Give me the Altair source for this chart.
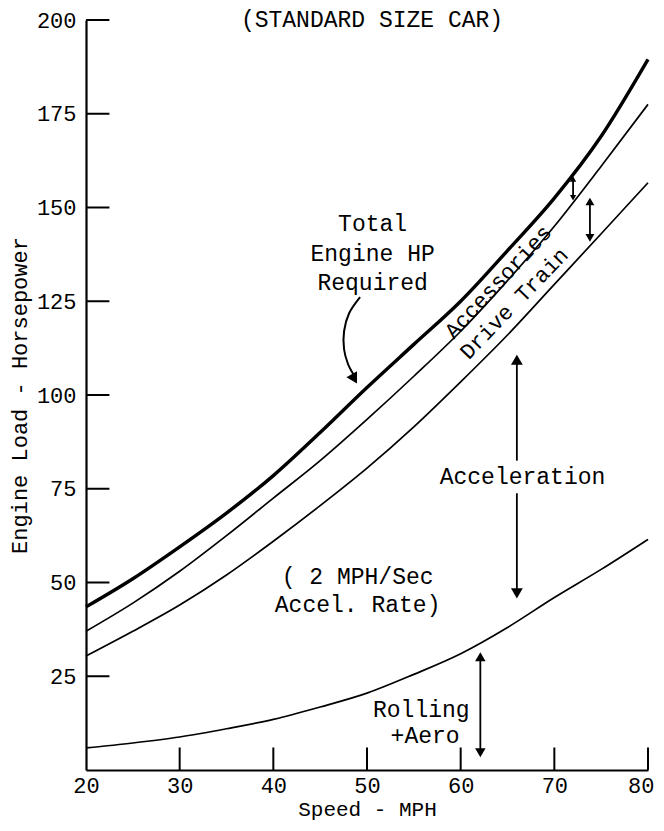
import altair as alt
import pandas as pd

# ---- data ----
speed = [20, 25, 30, 35, 40, 45, 50, 55, 60, 65, 70, 75, 80]
total_hp = [43.5, 51, 59.5, 68.5, 78.5, 90, 102, 113.5, 125, 138.5, 152.5, 169, 189.5]
accessories_hp = [37, 44.5, 53, 62.5, 72.5, 82.5, 93.5, 105, 117, 130.5, 145, 161, 177.5]
drive_hp = [30.4, 37, 44, 52, 61, 70.5, 80.5, 91.5, 103.5, 116, 129.5, 143, 156.6]
rolling_hp = [5.9, 7.2, 8.8, 11, 13.5, 16.8, 20.5, 25.5, 31, 38, 46, 53.5, 61.5]

x_ticks = [20, 30, 40, 50, 60, 70, 80]
y_ticks = [25, 50, 75, 100, 125, 150, 175, 200]

# vertical double arrows (speed, from hp, to hp)
shaft_speed = [72, 73.8, 66, 66, 62.1]
shaft_from = [152.4, 141.7, 82.5, 47.1, 4.6]
shaft_to = [157.8, 151.8, 109.4, 73.8, 30.2]

# arrow heads
head_speed = [72, 72, 73.8, 73.8, 66, 66, 62.1, 62.1]
head_hp = [157.6, 152.6, 151.6, 141.9, 109.4, 47.1, 30.2, 4.6]
head_shape = ["triangle-up", "triangle-down"] * 4
head_size = [40, 40, 80, 80, 140, 140, 110, 110]

# curved arrow pointing at the total curve
curve_speed = [49.26, 48.09, 47.55, 47.55, 47.98, 48.6]
curve_hp = [126.1, 121.8, 117.0, 112.2, 108.2, 105.3]
curve_head = (48.65, 104.3)

# annotation texts
ann_text = ["Total", "Engine HP", "Required", "Acceleration",
            "( 2 MPH/Sec", "Accel. Rate)", "Rolling", "+Aero"]
ann_speed = [50.6, 50.6, 50.6, 66.6, 49.0, 49.0, 55.8, 56.2]
ann_hp = [145.5, 137.5, 129.8, 78.2, 51.6, 44.1, 16.0, 9.0]

rot_text = ["Accessories", "Drive Train"]
rot_speed = [64.0, 65.7]
rot_hp = [130.2, 124.4]
rot_angle = [313, 314]

FONT = "Liberation Mono"

# ---- tables ----
curves = pd.DataFrame({
    "speed": speed * 3,
    "hp": accessories_hp + drive_hp + rolling_hp,
    "series": ["Accessories"] * len(speed) + ["Drive Train"] * len(speed) + ["Rolling"] * len(speed),
})
total_df = pd.DataFrame({"speed": speed, "hp": total_hp})
xt_df = pd.DataFrame({"speed": x_ticks[1:], "hp": 0, "hp2": 6.0})
yt_df = pd.DataFrame({"speed": 20, "speed2": 22.5, "hp": y_ticks})
shaft_df = pd.DataFrame({"speed": shaft_speed, "hp": shaft_from, "hp2": shaft_to})
head_df = pd.DataFrame({"speed": head_speed, "hp": head_hp, "shape": head_shape, "size": head_size})
curve_df = pd.DataFrame({"speed": curve_speed, "hp": curve_hp, "i": list(range(len(curve_speed)))})
chead_df = pd.DataFrame({"speed": [curve_head[0]], "hp": [curve_head[1]]})
ann_df = pd.DataFrame({"speed": ann_speed, "hp": ann_hp, "text": ann_text})
rot_df = pd.DataFrame({"speed": rot_speed, "hp": rot_hp, "text": rot_text, "angle": rot_angle})

is80 = "datum.value == 80"
X = alt.X(
    "speed:Q",
    scale=alt.Scale(domain=[20, 80], nice=False, zero=False),
    axis=alt.Axis(
        values=x_ticks, ticks=False, tickSize=0, grid=False,
        domainColor="black", domainWidth=2.2,
        labelFont=FONT, labelFontSize=22, labelColor="black", labelPadding=5,
        labelAlign={"condition": {"test": is80, "value": "right"}, "value": "center"},
        labelOffset={"condition": {"test": is80, "value": 6}, "value": 0},
        title="Speed - MPH", titleFont=FONT, titleFontSize=21, titleFontWeight="normal",
        titleColor="black", titleX=281, titleY=39, titleBaseline="middle", titleAlign="center",
    ),
)
Y = alt.Y(
    "hp:Q",
    scale=alt.Scale(domain=[0, 200], nice=False, zero=True),
    axis=alt.Axis(
        values=y_ticks, ticks=False, tickSize=0, grid=False,
        domainColor="black", domainWidth=2.2,
        labelFont=FONT, labelFontSize=22, labelColor="black", labelPadding=10,
        title="Engine Load - Horsepower", titleFont=FONT, titleFontSize=22,
        titleFontWeight="normal", titleColor="black", titleAngle=270,
        titleX=-67, titleY=375, titleBaseline="middle", titleAlign="center",
    ),
)

thin = alt.Chart(curves).mark_line(color="black", strokeWidth=1.7, interpolate="monotone").encode(
    x=X, y=Y, detail="series:N")
thick = alt.Chart(total_df).mark_line(color="black", strokeWidth=3.4, interpolate="monotone").encode(
    x=X, y=Y)
xticks = alt.Chart(xt_df).mark_rule(color="black", strokeWidth=2).encode(x=X, y=Y, y2="hp2")
yticks = alt.Chart(yt_df).mark_rule(color="black", strokeWidth=2).encode(x=X, x2="speed2", y=Y)
shafts = alt.Chart(shaft_df).mark_rule(color="black", strokeWidth=1.8).encode(x=X, y=Y, y2="hp2")
heads = alt.Chart(head_df).mark_point(filled=True, color="black", opacity=1).encode(
    x=X, y=Y,
    shape=alt.Shape("shape:N", scale=None),
    size=alt.Size("size:Q", scale=None),
)
carrow = alt.Chart(curve_df).mark_line(color="black", strokeWidth=2, interpolate="cardinal").encode(
    x=X, y=Y, order="i:Q")
chead = alt.Chart(chead_df).mark_point(filled=True, color="black", opacity=1, shape="triangle-up",
                                       size=150, angle=150).encode(x=X, y=Y)
texts = alt.Chart(ann_df).mark_text(font=FONT, fontSize=23, color="black", align="center",
                                    baseline="middle").encode(x=X, y=Y, text="text:N")
rtexts = alt.Chart(rot_df).mark_text(font=FONT, fontSize=22, color="black", align="center",
                                     baseline="middle").encode(
    x=X, y=Y, text="text:N", angle=alt.Angle("angle:Q", scale=None))

chart = alt.layer(
    xticks, yticks, thin, thick, shafts, heads, carrow, chead, texts, rtexts
).properties(
    width=562, height=750,
    padding={"left": 78, "top": 12, "right": 8, "bottom": 53},
    autosize=alt.AutoSizeParams(type="none"),
    title=alt.TitleParams("(STANDARD SIZE CAR)", font=FONT, fontSize=23, fontWeight="normal",
                          color="black", anchor="middle", offset=-23, dx=5),
    background="white",
).configure_view(strokeWidth=0)

chart.save("out.html", embed_options={"renderer": "svg", "actions": False})
